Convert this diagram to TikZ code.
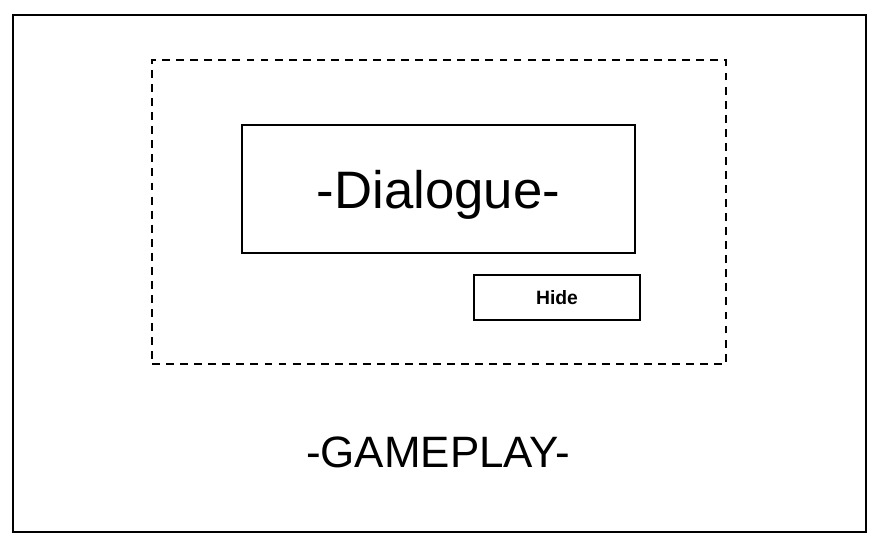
\documentclass[tikz,border=0pt]{standalone}
\usepackage{fontspec}
\setmainfont{Liberation Sans}
\usepackage{tikz}
\usetikzlibrary{positioning}

\begin{document}
\begin{tikzpicture}[
    x=0.02cm, y=-0.02cm,
    box/.style={rectangle, draw, line width=1pt, inner sep=0pt, minimum width=#1},
    zone/.style={rectangle, draw, line width=1pt, inner sep=0pt, dash pattern=on 4.5pt off 3.5pt}
]
\useasboundingbox (0,0) rectangle (882,548);
\node[box=17.06cm, minimum height=10.34cm] (screen) at (439.5,273.5) {};
\node[zone, minimum width=11.48cm, minimum height=6.08cm] (overlay) at (439,212) {};
\node[box=7.86cm, minimum height=2.56cm, text height=29pt, text depth=6.5pt, font=\fontsize{30}{34}\selectfont] (dialogue) at (438.5,189) {-Dialogue-};
\node[box=3.32cm, minimum height=0.9cm, font=\fontsize{11}{13}\selectfont\bfseries] (hide) at (557,297.5) {Hide};
\node[font=\fontsize{25}{29}\selectfont] (gameplay) at (438,452) {-GAMEPLAY-};
\end{tikzpicture}
\end{document}
